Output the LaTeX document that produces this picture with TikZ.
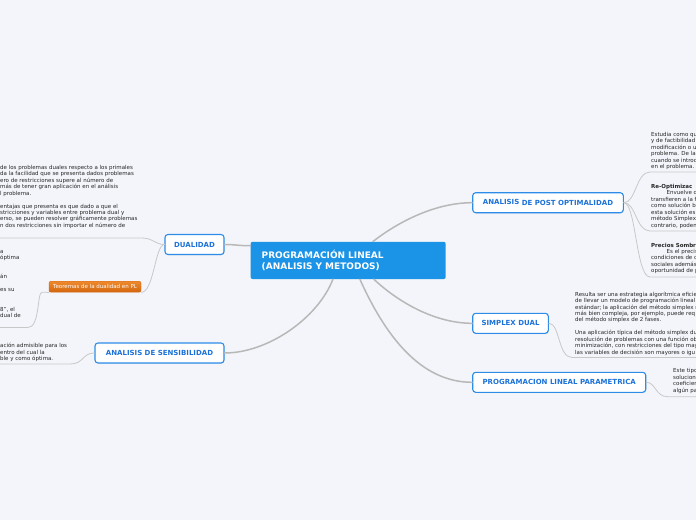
\documentclass[tikz,border=0pt]{standalone}
\usepackage{fontspec}
\setmainfont{DejaVu Sans}
\usetikzlibrary{shadows}
\definecolor{bg}{HTML}{F3F5FA}
\definecolor{mainblue}{HTML}{1B93E6}
\definecolor{nodeborder}{HTML}{2C8CE8}
\definecolor{nodetext}{HTML}{1C72D8}
\definecolor{conn}{HTML}{B8B8B8}
\definecolor{thinconn}{HTML}{C8C8C8}
\definecolor{txtcol}{HTML}{262626}
\definecolor{orangetop}{HTML}{EE8A2E}
\definecolor{orangebot}{HTML}{D2650F}
\begin{document}
\begin{tikzpicture}[x=1pt,y=-1pt,
  central/.style={fill=mainblue, rounded corners=2pt, text=white,
    font=\fontsize{9}{11.7}\selectfont\bfseries, align=left,
    minimum width=195pt, minimum height=37.3pt, text width=173pt,
    inner xsep=11pt, inner ysep=0pt},
  topic/.style={draw=nodeborder, line width=1.1pt, fill=white, rounded corners=3pt,
    font=\fontsize{7}{8}\selectfont\bfseries, text=nodetext, inner sep=0pt,
    minimum height=20pt,
    drop shadow={opacity=0.12, shadow xshift=0.6pt, shadow yshift=-0.9pt}},
  orangebox/.style={top color=orangetop, bottom color=orangebot, draw=orangebot,
    line width=0.4pt, rounded corners=2pt, text=white,
    font=\fontsize{5.5}{6.5}\selectfont, inner sep=0pt,
    minimum width=92pt, minimum height=11pt},
  txt/.style={anchor=north west, inner sep=0pt, align=left,
    font=\fontsize{5.5}{6.45}\selectfont, text=txtcol},
  mainconn/.style={draw=conn, line width=1.5pt, line cap=round},
  thinconn/.style={draw=thinconn, line width=0.8pt, line cap=round},
]
\useasboundingbox[fill=bg] (0,0) rectangle (696,520);

% ---------- nodes ----------
\node[central] (central) at (348.2,260.4)
  {PROGRAMACIÓN LINEAL\\(ANALISIS Y METODOS)};

\node[topic, minimum width=59pt] (dual) at (194.5,244.5) {DUALIDAD};
\node[topic, minimum width=129pt] (sens) at (159.5,353) {ANALISIS DE SENSIBILIDAD};
\node[topic, minimum width=150.6pt] (post) at (548,202.7)
  {\raisebox{0.8pt}{ANALISIS} DE POST OPTIMALIDAD};
\node[topic, minimum width=75.6pt] (simp) at (510.5,323.3) {SIMPLEX DUAL};
\node[topic, minimum width=173pt] (param) at (559.2,382.3)
  {PROGRAMACION LINEAL PARAMETRICA};
\node[orangebox] (teo) at (95,286.7) {Teoremas de la dualidad en PL};

% ---------- text blocks ----------
\node[txt] (tL1) at (0,164.8) {\rule{0pt}{4.3pt}de los problemas duales respecto a los primales\\
da la facilidad que se presenta dados problemas\\
ero de restricciones supere al número de\\
más de tener gran aplicación en el análisis\\
l problema.\\
\mbox{}\\
entajas que presenta es que dado a que el\\
stricciones y variables entre problema dual y\\
erso, se pueden resolver gráficamente problemas\\
n dos restricciones sin importar el número de};

\node[txt] (tL2) at (0,248.5) {\rule{0pt}{4.3pt}a\\
óptima\\
\mbox{}\\
\mbox{}\\
án\\
\mbox{}\\
es su\\
\mbox{}\\
\mbox{}\\
8”, el\\
dual de};

\node[txt] (tL3) at (0,343.2) {\rule{0pt}{4.3pt}ación admisible para los\\
entro del cual la\\
ble y como óptima.};

\node[txt] (tRA) at (651,132) {\rule{0pt}{4.3pt}Estudia como qu\\
y de factibilidad\\
modificación o u\\
problema. De la\\
cuando se introd\\
en el problema.};

\node[txt] (tRB) at (651,184) {\rule{0pt}{4.3pt}\textbf{Re-Optimizac}\\
\hspace*{15.5pt}Envuelve d\\
transfieren a la f\\
como solución b\\
esta solución es\\
método Simplex\\
contrario, poden};

\node[txt] (tRC) at (651,242.5) {\rule{0pt}{4.3pt}\textbf{Precios Sombr}\\
\hspace*{15.5pt}Es el precis\\
condiciones de c\\
sociales además\\
oportunidad de p};

\node[txt] (tRS) at (575,291.5) {\rule{0pt}{4.3pt}Resulta ser una estrategia algorítmica eficie\\
de llevar un modelo de programación lineal\\
estándar; la aplicación del método simplex r\\
más bien compleja, por ejemplo, puede req\\
del método simplex de 2 fases.\\
\mbox{}\\
Una aplicación típica del método simplex du\\
resolución de problemas con una función ob\\
minimización, con restricciones del tipo may\\
las variables de decisión son mayores o igu};

\node[txt] (tRP) at (673,368.3) {\rule{0pt}{4.3pt}Este tipo\\
solucion\\
coeficien\\
algún pa};

% ---------- free ends of underlines ----------
\coordinate (uL1) at (0,238);
\coordinate (uL2) at (0,327.5);
\coordinate (uL3) at (0,364);
\coordinate (uRA) at (696,172);
\coordinate (uRB) at (696,231);
\coordinate (uRC) at (696,277);
\coordinate (uRS) at (696,357.5);
\coordinate (uRP) at (696,396.7);

% ---------- main connectors ----------
\draw[mainconn] (dual.east) .. controls (236,244.5) and (240,246) .. ([yshift=-4pt]central.north west);
\draw[mainconn] ([xshift=-73pt]central.north east) .. controls (398,222) and (435,202.7) .. (post.west);
\draw[mainconn] ([xshift=-72pt]central.south east) .. controls (398,302) and (435,323.3) .. (simp.west);
\draw[mainconn] ([xshift=-86pt]central.south east) .. controls (385,335) and (420,382.3) .. (param.west);
\draw[mainconn] ([xshift=-113pt]central.south east) .. controls (318,318) and (268,353) .. (sens.east);

% ---------- thin connectors ----------
\draw[thinconn] (dual.west) .. controls (155,244.5) and (153,238) .. (142,238) -- (uL1);
\draw[thinconn] (dual.west) .. controls (155,244.5) and (154,292.2) .. (teo.south east);
\draw[thinconn] (teo.south west) -- (42,292.2) .. controls (37,292.2) and (40,327.5) .. (28,327.5) -- (uL2);
\draw[thinconn] (sens.west) .. controls (82,353) and (84,364) .. (70,364) -- (uL3);
\draw[thinconn] (post.east) .. controls (636,202.7) and (636,172) .. (650,172) -- (uRA);
\draw[thinconn] (post.east) .. controls (636,202.7) and (636,231) .. (650,231) -- (uRB);
\draw[thinconn] (post.east) .. controls (636,202.7) and (636,277) .. (650,277) -- (uRC);
\draw[thinconn] (simp.east) .. controls (560,323.3) and (558,357.5) .. (572,357.5) -- (uRS);
\draw[thinconn] (param.east) .. controls (656,382.3) and (655,396.7) .. (668,396.7) -- (uRP);
\end{tikzpicture}
\end{document}
